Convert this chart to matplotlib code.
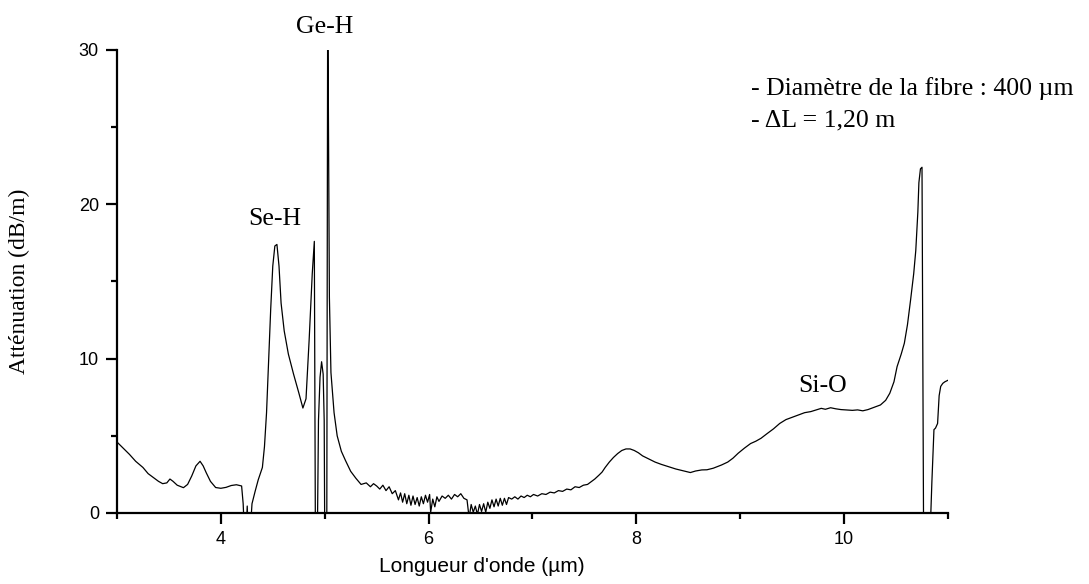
import numpy as np
import matplotlib
matplotlib.use("Agg")
from matplotlib import pyplot as plt
from matplotlib.ticker import MultipleLocator

plt.rcParams["font.family"] = ["Liberation Sans", "DejaVu Sans"]

wl = [3.00, 3.06, 3.12, 3.18, 3.25, 3.30, 3.35, 3.40, 3.44, 3.48, 3.51, 3.54,
      3.58, 3.64, 3.68, 3.72, 3.76, 3.80, 3.83, 3.86, 3.90, 3.95, 4.00, 4.05,
      4.10, 4.15, 4.20, 4.215, 4.225, 4.245, 4.254, 4.262, 4.285, 4.30, 4.33,
      4.36, 4.40, 4.42, 4.44, 4.46, 4.48, 4.50, 4.52, 4.54, 4.56, 4.58, 4.61,
      4.65, 4.70, 4.75, 4.79, 4.82, 4.85, 4.88, 4.90, 4.91, 4.93, 4.94, 4.955,
      4.97, 4.985, 4.995, 5.00, 5.02, 5.028, 5.032, 5.045, 5.06, 5.09, 5.12,
      5.16, 5.20, 5.25, 5.30, 5.35, 5.40, 5.44, 5.47, 5.50, 5.53, 5.56, 5.59,
      5.62, 5.65, 5.68, 5.71, 5.73, 5.75, 5.77, 5.79, 5.81, 5.83, 5.85, 5.87,
      5.89, 5.91, 5.93, 5.95, 5.97, 5.99, 6.01, 6.02, 6.04, 6.06, 6.08, 6.10,
      6.13, 6.16, 6.19, 6.22, 6.25, 6.28, 6.31, 6.34, 6.37, 6.39, 6.41, 6.43,
      6.45, 6.47, 6.49, 6.51, 6.53, 6.55, 6.57, 6.59, 6.61, 6.63, 6.65, 6.67,
      6.69, 6.71, 6.73, 6.75, 6.77, 6.80, 6.83, 6.86, 6.89, 6.92, 6.95, 6.98,
      7.01, 7.05, 7.09, 7.13, 7.17, 7.21, 7.25, 7.29, 7.33, 7.37, 7.41, 7.45,
      7.49, 7.53, 7.57, 7.60, 7.64, 7.67, 7.70, 7.74, 7.78, 7.82, 7.86, 7.90,
      7.94, 7.98, 8.02, 8.06, 8.12, 8.18, 8.24, 8.31, 8.38, 8.44, 8.48, 8.52,
      8.57, 8.63, 8.68, 8.74, 8.82, 8.88, 8.93, 8.98, 9.04, 9.10, 9.15, 9.20,
      9.26, 9.32, 9.38, 9.44, 9.50, 9.56, 9.62, 9.68, 9.74, 9.78, 9.82, 9.87,
      9.92, 9.97, 10.02, 10.08, 10.13, 10.18, 10.23, 10.29, 10.35, 10.40,
      10.44, 10.48, 10.51, 10.55, 10.58, 10.61, 10.64, 10.67, 10.69, 10.71,
      10.72, 10.735, 10.75, 10.765, 10.78, 10.83, 10.845, 10.865, 10.88, 10.90,
      10.915, 10.93, 10.95, 10.97, 11.00]
att = [4.60, 4.20, 3.80, 3.35, 2.95, 2.55, 2.30, 2.05, 1.90, 1.95, 2.20, 2.05,
       1.80, 1.64, 1.85, 2.40, 3.05, 3.35, 3.05, 2.60, 2.05, 1.65, 1.60, 1.66,
       1.78, 1.83, 1.75, 0.60, -1.00, -1.00, 0.45, -1.00, -1.00, 0.60, 1.40,
       2.15, 2.95, 4.30, 6.50, 9.80, 13.20, 16.00, 17.30, 17.40, 16.00, 13.60,
       11.80, 10.30, 9.00, 7.80, 6.80, 7.40, 11.20, 15.50, 17.60, -1.00, -1.00,
       6.00, 8.80, 9.80, 9.00, 6.00, -1.00, -1.00, 31.00, 30.50, 14.00, 9.10,
       6.50, 5.00, 4.00, 3.40, 2.70, 2.25, 1.85, 1.95, 1.70, 1.90, 1.75, 1.55,
       1.80, 1.45, 1.70, 1.25, 1.45, 0.85, 1.30, 0.70, 1.25, 0.60, 1.15, 0.50,
       1.10, 0.55, 1.00, 0.45, 1.05, 0.60, 1.15, 0.70, 1.20, 0.05, 0.90, 0.40,
       1.05, 0.75, 1.10, 0.95, 1.15, 0.90, 1.20, 1.05, 1.25, 0.95, 0.85, -0.30,
       0.55, 0.05, 0.45, -0.10, 0.55, 0.10, 0.60, 0.05, 0.70, 0.30, 0.85, 0.40,
       0.90, 0.45, 0.95, 0.50, 0.95, 0.55, 1.00, 0.90, 1.05, 0.90, 1.10, 1.00,
       1.15, 1.05, 1.20, 1.10, 1.25, 1.20, 1.35, 1.30, 1.45, 1.40, 1.55, 1.50,
       1.70, 1.65, 1.80, 1.85, 2.05, 2.20, 2.45, 2.65, 2.95, 3.30, 3.60, 3.85,
       4.05, 4.15, 4.15, 4.05, 3.90, 3.70, 3.50, 3.30, 3.15, 3.00, 2.85, 2.75,
       2.68, 2.62, 2.72, 2.79, 2.80, 2.90, 3.11, 3.30, 3.55, 3.87, 4.20, 4.50,
       4.65, 4.84, 5.15, 5.45, 5.80, 6.05, 6.20, 6.35, 6.50, 6.57, 6.70, 6.78,
       6.72, 6.82, 6.75, 6.70, 6.68, 6.65, 6.68, 6.62, 6.70, 6.85, 7.00, 7.30,
       7.76, 8.50, 9.48, 10.30, 11.00, 12.20, 13.80, 15.50, 17.00, 19.50, 21.40,
       22.30, 22.40, -1.00, -1.00, -1.00, 2.00, 5.40, 5.50, 5.80, 7.60, 8.20,
       8.40, 8.50, 8.60]

fig = plt.figure(figsize=(10.89, 5.84), dpi=100)
ax = fig.add_axes([0.1074, 0.1216, 0.7631, 0.7928])

ax.plot(wl, att, color="black", lw=0.9)

ax.set_xlim(3, 11)
ax.set_ylim(0, 30)
ax.spines["top"].set_visible(False)
ax.spines["right"].set_visible(False)
ax.spines["left"].set_linewidth(1.6)
ax.spines["bottom"].set_linewidth(1.6)

ax.set_xticks([4, 6, 8, 10])
ax.xaxis.set_minor_locator(MultipleLocator(1))
ax.yaxis.set_major_locator(MultipleLocator(10))
ax.yaxis.set_minor_locator(MultipleLocator(5))
ax.tick_params(which="major", direction="out", length=8, width=1.6,
               labelsize=13, pad=5)
ax.tick_params(which="minor", direction="out", length=4, width=1.6)

ax.set_ylabel("Atténuation (dB/m)", family="Liberation Serif", fontsize=17)
ax.yaxis.set_label_coords(-0.105, 0.5)
ax.set_xlabel("Longueur d'onde (µm)", fontsize=15)
ax.xaxis.set_label_coords(0.439, -0.095)

serif = dict(family="Liberation Serif", fontsize=18.5, clip_on=False)
ax.text(4.52, 18.66, "Se-H", ha="center", va="baseline", **serif)
ax.text(5.00, 31.1, "Ge-H", ha="center", va="baseline", **serif)
ax.text(9.79, 7.86, "Si-O", ha="center", va="baseline", **serif)
ax.text(9.10, 27.1, "- Diamètre de la fibre : 400 µm", ha="left",
        va="baseline", **serif)
ax.text(9.10, 25.04, "- ΔL = 1,20 m", ha="left", va="baseline", **serif)

fig.savefig("out.png", dpi=100)
